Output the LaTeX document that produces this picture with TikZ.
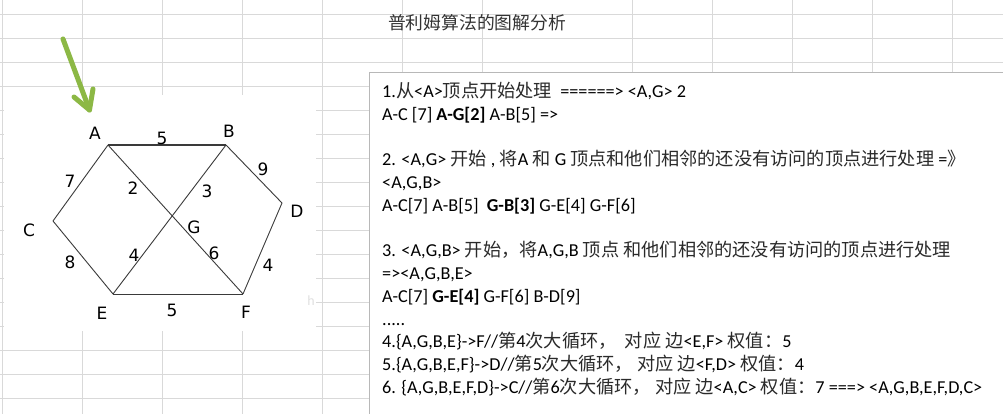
\documentclass[tikz,border=0pt]{standalone}
\usepackage{fontspec}
\setmainfont{Carlito}
\newfontfamily\cjk{Noto Sans CJK SC}
\newfontfamily\lblfont{DejaVu Sans}
\newcommand{\zh}[1]{{\cjk\color{zhgray}#1}}
\definecolor{gridc}{HTML}{D9D9D9}
\definecolor{boxc}{HTML}{B8B8B8}
\definecolor{arrowg}{HTML}{8CB845}
\definecolor{edgec}{HTML}{3A3A3A}
\definecolor{zhgray}{HTML}{2A2A2A}
\begin{document}
\begin{tikzpicture}[x=1pt,y=-1pt,
  gridline/.style={draw=gridc,line width=0.9pt},
  edge/.style={draw=edgec,line width=0.9pt},
  vlabel/.style={font=\lblfont\fontsize{17}{17}\selectfont,text=black,inner sep=0pt},
  txt/.style={anchor=base west,inner sep=0pt,font=\fontsize{18.2}{20}\selectfont,text=black},
  garrow/.style={draw=arrowg,line width=5pt,line cap=round,line join=round}]
\useasboundingbox (0,0) rectangle (1003,414);
\fill[white] (0,0) rectangle (1003,414);
% spreadsheet grid
\foreach \yy in {14,38,...,398} \draw[gridline] (0,\yy) -- (1003,\yy);
\foreach \xx in {2.7,82,162,242,322,402,482,632,712,792,872,952} \draw[gridline] (\xx,0) -- (\xx,414);
% pasted picture area
\fill[white] (3.5,95) rectangle (316,331);
% text box
\fill[white] (369,73) rectangle (1010,420);
\draw[draw=boxc,line width=1pt] (369,420) -- (369,73) -- (1010,73);
% title
\node[font=\cjk\fontsize{17.8}{18}\selectfont,text=black!80,inner sep=0pt] (title) at (477,23) {普利姆算法的图解分析};
% graph
\coordinate (A) at (108,145);
\coordinate (B) at (226,145);
\coordinate (C) at (53,221);
\coordinate (D) at (282,203);
\coordinate (E) at (113,294);
\coordinate (F) at (243,294);
\draw[edge,line width=1.4pt] (A) -- (B);
\draw[edge] (A) -- (C);
\draw[edge] (C) -- (E);
\draw[edge] (E) -- (F);
\draw[edge] (B) -- (D);
\draw[edge] (D) -- (F);
\draw[edge] (A) -- (F);
\draw[edge] (B) -- (E);
\node[vlabel] (la) at (95,133) {A};
\node[vlabel] (lb) at (229,131) {B};
\node[vlabel] (lc) at (29,230) {C};
\node[vlabel] (ld) at (297,211) {D};
\node[vlabel] (le) at (102,313) {E};
\node[vlabel] (lf) at (246,312) {F};
\node[vlabel] (lg) at (194,227) {G};
\node[vlabel] (w1) at (162,138) {5};
\node[vlabel] (w2) at (70,181) {7};
\node[vlabel] (w3) at (133,188) {2};
\node[vlabel] (w4) at (207,191) {3};
\node[vlabel] (w5) at (263,169) {9};
\node[vlabel] (w6) at (70,262) {8};
\node[vlabel] (w7) at (134,255) {4};
\node[vlabel] (w8) at (214,253) {6};
\node[vlabel] (w9) at (268,265) {4};
\node[vlabel] (w10) at (172,310) {5};
\node[font=\fontsize{14}{14}\selectfont,text=black!12,inner sep=0pt] (hh) at (311,301) {h};
% green arrow
\coordinate (gs) at (63,39);
\coordinate (gt) at (89.5,110);
\coordinate (gl) at (74,97);
\coordinate (gr) at (93,89);
\draw[garrow] (gs) -- (gt);
\draw[garrow] (gl) -- (gt) -- (gr);
% text lines
\node[txt] (t1) at (382,97.5) {1.\zh{从}<A>\zh{顶点开始处理}\ \ ======> <A,G> 2};
\node[txt] (t2) at (382,120.25) {A-C [7] \textbf{A-G[2]} A-B[5] =>};
\node[txt] (t4) at (382,165.75) {2. <A,G> \zh{开始} , \zh{将}A \zh{和} G \zh{顶点和他们相邻的还没有访问的顶点进行处理} =\zh{》}};
\node[txt] (t5) at (382,188.5) {<A,G,B>};
\node[txt] (t6) at (382,211.25) {A-C[7] A-B[5]\ \ \textbf{G-B[3]} G-E[4] G-F[6]};
\node[txt] (t8) at (382,256.75) {3. <A,G,B> \zh{开始，将}A,G,B \zh{顶点} \zh{和他们相邻的还没有访问的顶点进行处理}};
\node[txt] (t9) at (382,279.5) {=><A,G,B,E>};
\node[txt] (t10) at (382,302.25) {A-C[7] \textbf{G-E[4]} G-F[6] B-D[9]};
\node[txt] (t11) at (382,325) {.....};
\node[txt] (t12) at (382,347.75) {4.\{A,G,B,E\}->F//\zh{第}4\zh{次大循环，}\ \ \zh{对应} \zh{边}<E,F> \zh{权值：}5};
\node[txt] (t13) at (382,370.5) {5.\{A,G,B,E,F\}->D//\zh{第}5\zh{次大循环，} \zh{对应} \zh{边}<F,D> \zh{权值：}4};
\node[txt] (t14) at (382,393.25) {6. \{A,G,B,E,F,D\}->C//\zh{第}6\zh{次大循环，} \zh{对应} \zh{边}<A,C> \zh{权值：}7 ===> <A,G,B,E,F,D,C>};
\end{tikzpicture}
\end{document}
